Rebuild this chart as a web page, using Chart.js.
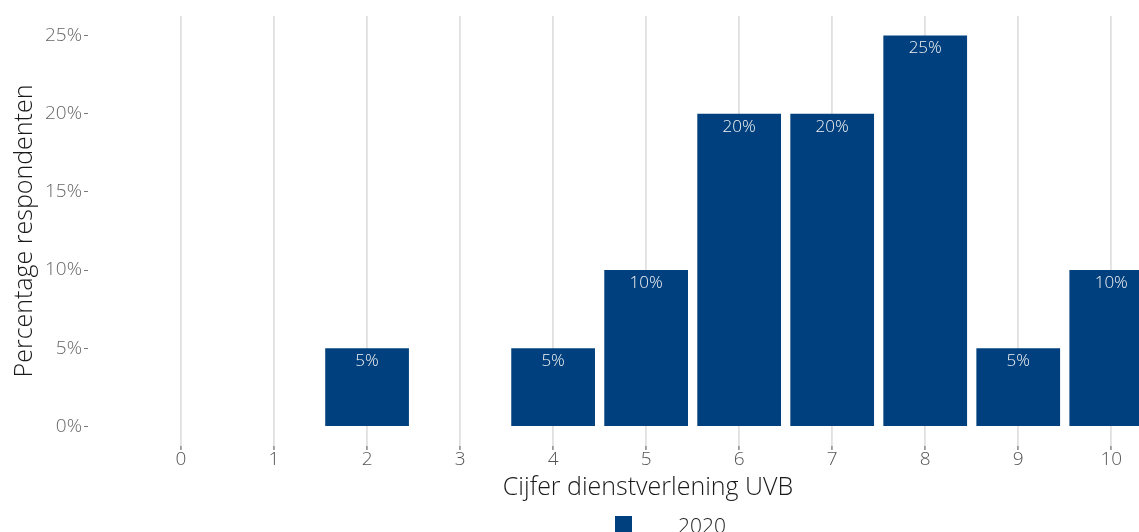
<!DOCTYPE html>
<html>
<head>
<meta charset="utf-8">
<script src="https://cdn.jsdelivr.net/npm/chart.js@4"></script>
<style>
    html, body { margin: 0; padding: 0; background: #fff; overflow: hidden; }
    #wrap { width: 1210px; height: 550px; }
</style>
</head>
<body>
<div id="wrap"><canvas id="chart"></canvas></div>
<script>
// Data
const scores = [2, 4, 5, 6, 7, 8, 9, 10];
const percentages = [5, 5, 10, 20, 20, 25, 5, 10];
const xTicks = [0, 1, 2, 3, 4, 5, 6, 7, 8, 9, 10];
const yTicks = [0, 5, 10, 15, 20, 25];
const seriesName = '2020';

const barColor = '#00407e';
const fontFamily = '"Open Sans", "DejaVu Sans", sans-serif';

// White value labels at the top of each bar
const barLabels = {
    id: 'barLabels',
    afterDatasetsDraw(chart) {
        const ctx = chart.ctx;
        const meta = chart.getDatasetMeta(0);
        ctx.save();
        ctx.fillStyle = '#f2f2f2';
        ctx.font = '300 17px ' + fontFamily;
        ctx.textAlign = 'center';
        ctx.textBaseline = 'middle';
        meta.data.forEach((bar, i) => {
            ctx.fillText(percentages[i] + '%', bar.x, bar.y + 13);
        });
        ctx.restore();
    }
};

// ggplot-like legend below the axis title
const bottomLegend = {
    id: 'bottomLegend',
    afterDraw(chart) {
        const ctx = chart.ctx;
        const area = chart.chartArea;
        const cx = (area.left + area.right) / 2;
        const y = chart.scales.x.bottom + 10;
        ctx.save();
        ctx.fillStyle = barColor;
        ctx.fillRect(cx - 33, y, 17, 17);
        ctx.fillStyle = '#1a1a1a';
        ctx.font = '300 21px ' + fontFamily;
        ctx.textAlign = 'left';
        ctx.textBaseline = 'middle';
        ctx.fillText(seriesName, cx + 30, y + 11);
        ctx.restore();
    }
};

new Chart(document.getElementById('chart'), {
    type: 'bar',
    data: {
        datasets: [{
            label: seriesName,
            data: scores.map((s, i) => ({ x: s, y: percentages[i] })),
            backgroundColor: barColor,
            borderWidth: 0,
            barPercentage: 0.9,
            categoryPercentage: 1
        }]
    },
    options: {
        responsive: true,
        maintainAspectRatio: false,
        animation: false,
        layout: { padding: { top: 16, left: 0, right: 2, bottom: 44 } },
        plugins: {
            legend: { display: false },
            tooltip: { enabled: false }
        },
        scales: {
            x: {
                type: 'linear',
                offset: false,
                min: -1,
                max: 11.04,
                afterBuildTicks: scale => {
                    scale.ticks = xTicks.map(v => ({ value: v }));
                },
                afterFit: scale => { scale.height = 60; },
                ticks: {
                    color: '#555',
                    font: { family: fontFamily, size: 19, weight: 300 },
                    padding: -2,
                    maxRotation: 0,
                    autoSkip: false,
                    callback: v => String(v)
                },
                grid: {
                    offset: false,
                    color: '#e0e0e0',
                    lineWidth: 1.8,
                    tickLength: 4,
                    tickColor: '#9a9a9a'
                },
                border: { display: false },
                title: {
                    display: true,
                    text: 'Cijfer dienstverlening UVB',
                    color: '#1a1a1a',
                    font: { family: fontFamily, size: 25, weight: 300 },
                    padding: { top: 0, bottom: 3 }
                }
            },
            y: {
                min: -1.25,
                max: 26.25,
                afterBuildTicks: scale => {
                    scale.ticks = yTicks.map(v => ({ value: v }));
                },
                afterFit: scale => { scale.width = 88; },
                ticks: {
                    color: '#666',
                    font: { family: fontFamily, size: 19, weight: 300 },
                    padding: 2,
                    callback: v => v + '%'
                },
                grid: {
                    drawOnChartArea: false,
                    tickLength: 4,
                    tickColor: '#777',
                    lineWidth: 1
                },
                border: { display: false },
                title: {
                    display: true,
                    text: 'Percentage respondenten',
                    color: '#1a1a1a',
                    font: { family: fontFamily, size: 25, weight: 300 },
                    padding: { top: 10, bottom: 0 }
                }
            }
        }
    },
    plugins: [barLabels, bottomLegend]
});
</script>
</body>
</html>
